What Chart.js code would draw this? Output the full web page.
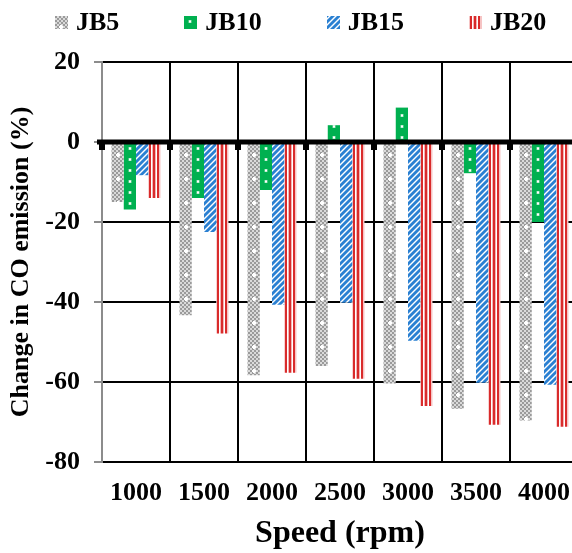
<!DOCTYPE html>
<html>
<head>
<meta charset="utf-8">
<script src="https://cdn.jsdelivr.net/npm/chart.js@4"></script>
<style>
  body { margin: 0; overflow: hidden; background: #fff; }
  #wrap { position: relative; width: 586px; height: 553px; }
  #legend {
    position: absolute; left: 55px; top: 8px;
    display: flex; align-items: center; gap: 65px;
    font: bold 26px "Liberation Serif", "Times New Roman", serif; line-height: 28px;
  }
  #legend .item { display: flex; align-items: center; }
  #legend canvas { margin-right: 8px; }
</style>
</head>
<body>
<div id="wrap">
  <canvas id="myChart" width="586" height="553"></canvas>
  <div id="legend"></div>
</div>
<script>
const speeds = ['1000', '1500', '2000', '2500', '3000', '3500', '4000'];
const seriesNames = ['JB5', 'JB10', 'JB15', 'JB20'];
const jb5 = [-15, -43.3, -58.3, -56, -60.4, -66.7, -69.6];
const jb10 = [-16.9, -14, -12, 4.2, 8.6, -7.8, -20];
const jb15 = [-8.3, -22.5, -40.7, -40.2, -49.7, -60.2, -60.7];
const jb20 = [-14, -47.9, -57.7, -59.2, -66, -70.7, -71.2];
const yTicks = [-80, -60, -40, -20, 0, 20];

const FONT = '"Liberation Serif", "Times New Roman", serif';
const CAT_PCT = 0.72;

function makeTile(w, h, draw) {
    const c = document.createElement('canvas');
    c.width = w;
    c.height = h;
    draw(c.getContext('2d'));
    return c;
}

// pattern tiles, 12px wide so the motif sits in the middle of a bar
const tiles = [
    makeTile(12, 24, g => {
        for (let i = 0; i < 6; i++) {
            for (let j = 0; j < 12; j++) {
                g.fillStyle = (i + j) % 2 ? '#dadada' : '#9a9a9a';
                g.fillRect(i * 2, j * 2, 2, 2);
            }
        }
        g.fillStyle = '#fff';
        g.fillRect(5, 9, 2, 4);
        g.fillRect(4, 10, 4, 2);
    }),
    makeTile(12, 11, g => {
        g.fillStyle = '#00b050';
        g.fillRect(0, 0, 12, 11);
        g.fillStyle = '#8fdcb0';
        g.fillRect(4.5, 4, 3, 3);
        g.fillStyle = '#fff';
        g.fillRect(5, 4.5, 2, 2);
    }),
    makeTile(6, 6, g => {
        g.fillStyle = '#fff';
        g.fillRect(0, 0, 6, 6);
        g.strokeStyle = '#2a80d2';
        g.lineWidth = 2.8;
        [[-1, 1, 1, -1], [0, 6, 6, 0], [5, 7, 7, 5]].forEach(s => {
            g.beginPath();
            g.moveTo(s[0], s[1]);
            g.lineTo(s[2], s[3]);
            g.stroke();
        });
    }),
    makeTile(12, 1, g => {
        const cols = ['#f6c4c4', '#d92b2b', '#d92b2b', '#fff', '#f3b4b4', '#d92b2b', '#d92b2b', '#f3b4b4', '#fff', '#d92b2b', '#d92b2b', '#f6c4c4'];
        cols.forEach((c, i) => {
            g.fillStyle = c;
            g.fillRect(i, 0, 1, 1);
        });
    })
];

const canvas = document.getElementById('myChart');
const mainCtx = canvas.getContext('2d');

// one pattern per bar, shifted so it lines up with the bar
function barFill(c) {
    const x = c.chart.scales.x;
    const pat = mainCtx.createPattern(tiles[c.datasetIndex], 'repeat');
    if (x && c.dataIndex !== undefined) {
        const bw = x.width / speeds.length * CAT_PCT / seriesNames.length;
        const cx = x.getPixelForValue(c.dataIndex) + (c.datasetIndex - 1.5) * bw;
        pat.setTransform(new DOMMatrix().translate(Math.round(cx - 6), 0));
    }
    return pat;
}

// legend
const legendBox = document.getElementById('legend');
seriesNames.forEach((name, i) => {
    const item = document.createElement('div');
    item.className = 'item';
    const sw = document.createElement('canvas');
    sw.width = 13;
    sw.height = 13;
    const sctx = sw.getContext('2d');
    sctx.fillStyle = sctx.createPattern(tiles[i], 'repeat');
    sctx.fillRect(0, 0, 13, 13);
    const label = document.createElement('span');
    label.textContent = name;
    item.appendChild(sw);
    item.appendChild(label);
    legendBox.appendChild(item);
});

const zeroLine = {
    id: 'zeroLine',
    afterDatasetsDraw(chart) {
        const { ctx, chartArea, scales: { x, y } } = chart;
        const y0 = y.getPixelForValue(0);
        ctx.save();
        ctx.fillStyle = '#000';
        ctx.fillRect(chartArea.left - 5, y0 - 2.5, chartArea.right - chartArea.left + 5, 5);
        for (let i = 0; i <= speeds.length; i++) {
            const xb = x.getPixelForValue(i - 0.5);
            ctx.fillRect(xb - 3, y0, 6, 8);
        }
        ctx.restore();
    }
};

const allSeries = [jb5, jb10, jb15, jb20];

const myChart = new Chart(canvas, {
    type: 'bar',
    data: {
        labels: speeds,
        datasets: allSeries.map((vals, i) => ({
            label: seriesNames[i],
            data: vals,
            backgroundColor: barFill,
            borderWidth: 0
        }))
    },
    options: {
        responsive: false,
        animation: false,
        devicePixelRatio: 1,
        categoryPercentage: CAT_PCT,
        barPercentage: 1,
        layout: { padding: { top: 62, left: 0, right: 0, bottom: 0 } },
        plugins: {
            legend: { display: false },
            tooltip: { enabled: false }
        },
        scales: {
            x: {
                offset: true,
                afterFit: axis => { axis.height = 91; },
                grid: {
                    offset: true,
                    drawTicks: false,
                    lineWidth: 2,
                    color: c => c.index === 0 ? '#8c8c8c' : '#000'
                },
                border: { color: '#000', width: 2 },
                ticks: {
                    color: '#000',
                    padding: 16,
                    font: { family: FONT, size: 26, weight: 'bold' }
                },
                title: {
                    display: true,
                    text: 'Speed (rpm)',
                    color: '#000',
                    padding: { top: 4, bottom: 0 },
                    font: { family: FONT, size: 32, weight: 'bold' }
                }
            },
            y: {
                min: yTicks[0],
                max: yTicks[yTicks.length - 1],
                afterBuildTicks: axis => {
                    axis.ticks = yTicks.map(v => ({ value: v }));
                },
                afterFit: axis => { axis.width = 102; },
                grid: {
                    color: '#000',
                    lineWidth: 2,
                    tickLength: 8,
                    tickColor: '#8c8c8c'
                },
                border: { color: '#8c8c8c', width: 2 },
                ticks: {
                    color: '#000',
                    padding: 14,
                    font: { family: FONT, size: 26, weight: 'bold' }
                },
                title: {
                    display: true,
                    text: 'Change in CO emission (%)',
                    color: '#000',
                    padding: { top: 6, bottom: 8 },
                    font: { family: FONT, size: 26, weight: 'bold' }
                }
            }
        }
    },
    plugins: [zeroLine]
});
</script>
</body>
</html>
